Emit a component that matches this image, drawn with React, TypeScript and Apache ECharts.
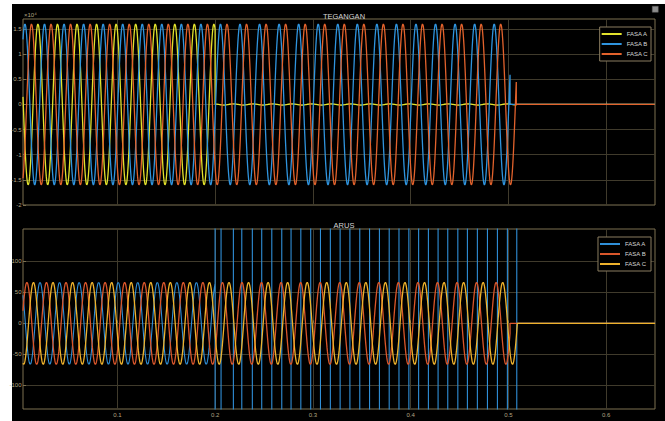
import React, { useEffect, useRef } from "react";
import * as echarts from "echarts";

// ---- axis ranges and ticks ----
const X_MIN = 0.0035;
const X_MAX = 0.65;
const X_TICKS = [0.1, 0.2, 0.3, 0.4, 0.5, 0.6];
const V_MIN = -20000;
const V_MAX = 17000;
const V_TICKS = [-20000, -15000, -10000, -5000, 0, 5000, 10000, 15000];
const I_MIN = -138;
const I_MAX = 152;
const I_TICKS = [-100, -50, 0, 50, 100];

// ---- signal parameters ----
const FREQ_HZ = 50;
const SAMPLE_DT = 0.0002;
const PHASE_NAMES = ["FASA A", "FASA B", "FASA C"];

// voltage (TEGANGAN)
const VOLT_AMP = [16000, 16000, 16000];
const VOLT_PEAK_T = [0.0188, 0.0055, 0.0122];
const VOLT_CUT_T = [0.2, 0.5017, 0.5081];
const VOLT_RESIDUAL_AMP = [120, 0, 0];
const VOLT_RESIDUAL_END_T = 0.5081;
const VOLT_COLORS = ["#e2e22c", "#2f94de", "#e2622c"];

// current (ARUS)
const CURR_AMP = [66, 66, 66];
const CURR_PEAK_T = [0.0009, 0.0075, 0.0142];
const CURR_CUT_T = [0.2, 0.5017, 0.5092];
const CURR_COLORS = ["#2f8fd8", "#d9562b", "#eeb22c"];
// spike instants of phase A current after the fault
const SPIKE_T_A = [
  0.2, 0.2061, 0.2187, 0.2273, 0.2381, 0.2477, 0.258, 0.2682, 0.2777, 0.2877,
  0.2978, 0.3078, 0.3179, 0.3279, 0.3379, 0.348, 0.358, 0.3681, 0.3781, 0.3881,
  0.3982, 0.4082, 0.4182, 0.4281, 0.438, 0.4483, 0.4581, 0.4683, 0.4786,
  0.4888, 0.499, 0.5086,
];
const SPIKE_LEVEL = 100000;

function wave(amp: number, peak: number, cut: number, residual: number, residualEnd: number) {
  const pts: (number | string)[][] = [];
  const n = Math.round((X_MAX - X_MIN) / SAMPLE_DT);
  for (let i = 0; i <= n; i++) {
    const t = X_MIN + i * SAMPLE_DT;
    const ph = 2 * Math.PI * FREQ_HZ * (t - peak);
    if (t < cut) pts.push([t, amp * Math.cos(ph)]);
    else {
      if (pts.length && (pts[pts.length - 1][0] as number) < cut) {
        pts.push([cut, amp * Math.cos(2 * Math.PI * FREQ_HZ * (cut - peak))]);
        pts.push([cut, 0]);
      }
      pts.push([t, t < residualEnd ? residual * Math.cos(ph) : 0]);
    }
  }
  return pts;
}

function currentA() {
  const pts: (number | string)[][] = [];
  const n = Math.round((X_MAX - X_MIN) / SAMPLE_DT);
  for (let i = 0; i <= n; i++) {
    const t = X_MIN + i * SAMPLE_DT;
    if (t >= CURR_CUT_T[0]) break;
    pts.push([t, CURR_AMP[0] * Math.cos(2 * Math.PI * FREQ_HZ * (t - CURR_PEAK_T[0]))]);
  }
  pts.push([CURR_CUT_T[0], CURR_AMP[0] * Math.cos(2 * Math.PI * FREQ_HZ * (CURR_CUT_T[0] - CURR_PEAK_T[0]))]);
  pts.push([CURR_CUT_T[0], "-"]);
  for (const s of SPIKE_T_A) {
    pts.push([s, SPIKE_LEVEL]);
    pts.push([s, -SPIKE_LEVEL]);
    pts.push([s, "-"]);
  }
  pts.push([SPIKE_T_A[SPIKE_T_A.length - 1], 0]);
  pts.push([X_MAX, 0]);
  return pts;
}

const GRID_LINE = "#403b2c";
const BOX = "#7d7050";
const LABEL = "#b3a583";
const FONT = "'Liberation Sans', Arial, sans-serif";
const NARROW = "'Liberation Sans Narrow', 'Liberation Sans', Arial, sans-serif";

export default function App() {
  const ref = useRef<HTMLDivElement>(null);
  useEffect(() => {
    if (!ref.current) return;
    const chart = echarts.init(ref.current, null, { renderer: "svg" });
    const xAxisBase = (gridIndex: number, showLabel: boolean) => ({
      type: "value",
      gridIndex,
      min: X_MIN,
      max: X_MAX,
      axisLine: { show: false },
      axisTick: { show: true, inside: true, length: 3, lineStyle: { color: BOX }, customValues: X_TICKS },
      axisLabel: {
        show: showLabel,
        customValues: X_TICKS,
        color: LABEL,
        fontSize: 6,
        fontFamily: FONT,
        margin: 3,
        formatter: (v: number) => String(Math.round(v * 10) / 10),
      },
      splitLine: { show: true, lineStyle: { color: GRID_LINE, width: 1 } },
    });
    const legendBase = (top: number) => ({
      orient: "vertical",
      right: 14,
      top,
      itemWidth: 20,
      itemHeight: 2,
      itemGap: 2,
      icon: "rect",
      padding: [3, 3, 3, 2],
      backgroundColor: "#000",
      borderColor: "#8a7d60",
      borderWidth: 1,
      textStyle: { color: "#d6d6d6", fontSize: 6, fontFamily: FONT, lineHeight: 8 },
    });
    const lineSeries = (name: string, color: string, idx: number, data: any[], width = 1.3) => ({
      type: "line",
      name,
      xAxisIndex: idx,
      yAxisIndex: idx,
      data,
      showSymbol: false,
      symbol: "none",
      connectNulls: false,
      lineStyle: { color, width },
      itemStyle: { color },
      emphasis: { disabled: true },
      silent: true,
    });
    const yLabel = {
      color: LABEL,
      fontSize: 6,
      fontFamily: NARROW,
      margin: 1.5,
    };
    const gridBase = { left: 23, right: 10, show: true, borderColor: BOX, borderWidth: 1, backgroundColor: "#000", containLabel: false, outerBoundsMode: "none" };
    chart.setOption({
      animation: false,
      backgroundColor: "#000",
      title: [
        { text: "TEGANGAN", left: 339, textAlign: "center", top: 7, textStyle: { color: "#d4d4d4", fontSize: 7.5, fontWeight: "normal", fontFamily: FONT } },
        { text: "ARUS", left: 339, textAlign: "center", top: 216, textStyle: { color: "#d4d4d4", fontSize: 7.5, fontWeight: "normal", fontFamily: FONT } },
      ],
      grid: [
        { ...gridBase, top: 19, height: 186 },
        { ...gridBase, top: 229, height: 180 },
      ],
      xAxis: [xAxisBase(0, false), xAxisBase(1, true)],
      yAxis: [
        {
          type: "value",
          gridIndex: 0,
          min: V_MIN,
          max: V_MAX,
          axisLine: { show: false },
          axisTick: { show: true, inside: true, length: 3, lineStyle: { color: BOX }, customValues: V_TICKS },
          axisLabel: { ...yLabel, customValues: V_TICKS, formatter: (v: number) => String(v / 10000) },
          splitLine: { show: true, lineStyle: { color: GRID_LINE, width: 1 } },
        },
        {
          type: "value",
          gridIndex: 1,
          min: I_MIN,
          max: I_MAX,
          axisLine: { show: false },
          axisTick: { show: true, inside: true, length: 3, lineStyle: { color: BOX }, customValues: I_TICKS },
          axisLabel: { ...yLabel, customValues: I_TICKS },
          splitLine: { show: true, lineStyle: { color: GRID_LINE, width: 1 } },
        },
      ],
      legend: [
        { ...legendBase(27), data: PHASE_NAMES.map((n) => ({ name: n })) },
        { ...legendBase(237), data: PHASE_NAMES.map((n) => ({ name: n + " " })) },
      ],
      graphic: [
        { type: "rect", z: -100, shape: { x: 0, y: 0, width: 12, height: 421 }, style: { fill: "#fff" } },
        { type: "rect", z: -100, shape: { x: 0, y: 0, width: 665, height: 4 }, style: { fill: "#fff" } },
        {
          type: "text",
          left: 24,
          top: 12,
          style: { text: "×10⁴", fill: LABEL, fontSize: 6, fontFamily: FONT },
        },
        {
          type: "rect",
          left: 652,
          top: 6,
          shape: { width: 6, height: 6 },
          style: { fill: "#8c8c8c", stroke: "#5a5a5a", lineWidth: 0.5 },
        },
      ],
      series: [
        lineSeries(PHASE_NAMES[0], VOLT_COLORS[0], 0, wave(VOLT_AMP[0], VOLT_PEAK_T[0], VOLT_CUT_T[0], VOLT_RESIDUAL_AMP[0], VOLT_RESIDUAL_END_T)),
        lineSeries(PHASE_NAMES[1], VOLT_COLORS[1], 0, wave(VOLT_AMP[1], VOLT_PEAK_T[1], VOLT_CUT_T[1], VOLT_RESIDUAL_AMP[1], VOLT_RESIDUAL_END_T)),
        lineSeries(PHASE_NAMES[2], VOLT_COLORS[2], 0, wave(VOLT_AMP[2], VOLT_PEAK_T[2], VOLT_CUT_T[2], VOLT_RESIDUAL_AMP[2], VOLT_RESIDUAL_END_T)),
        lineSeries(PHASE_NAMES[0] + " ", CURR_COLORS[0], 1, currentA(), 1.1),
        lineSeries(PHASE_NAMES[1] + " ", CURR_COLORS[1], 1, wave(CURR_AMP[1], CURR_PEAK_T[1], CURR_CUT_T[1], 0, 0)),
        lineSeries(PHASE_NAMES[2] + " ", CURR_COLORS[2], 1, wave(CURR_AMP[2], CURR_PEAK_T[2], CURR_CUT_T[2], 0, 0)),
      ],
    });
    return () => chart.dispose();
  }, []);
  return (
    <div
      ref={ref}
      style={{ position: "absolute", left: 0, top: 0, width: 665, height: 421 }}
    />
  );
}
